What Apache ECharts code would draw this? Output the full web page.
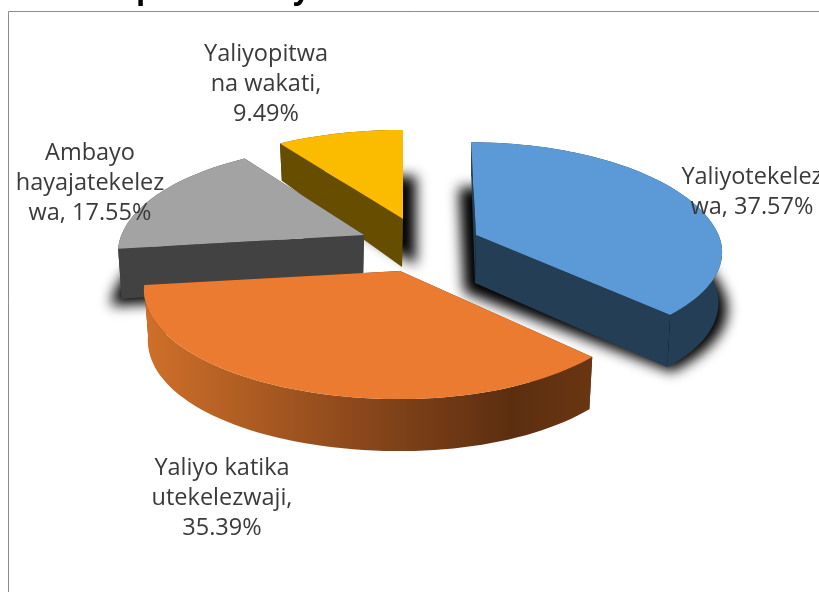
<!DOCTYPE html>
<html>
<head>
<meta charset="utf-8">
<style>html,body{margin:0;padding:0;background:#fff}#c{width:819px;height:592px}</style>
<script src="https://cdn.jsdelivr.net/npm/echarts@6/dist/echarts.min.js"></script>
</head>
<body>
<div id="c"></div>
<script>
// ---- data ----
const categories = ['Yaliyotekelezwa', 'Yaliyo katika utekelezwaji', 'Ambayo hayajatekelezwa', 'Yaliyopitwa na wakati'];
const values = [37.57, 35.39, 17.55, 9.49];
const labelNameLines = [['Yaliyotekelez', 'wa'], ['Yaliyo katika', 'utekelezwaji'], ['Ambayo', 'hayajatekelez', 'wa'], ['Yaliyopitwa', 'na wakati']];
const percentOnOwnLine = [false, true, false, true];
const topColors = ['#5B9AD6', '#EB7B30', '#A3A3A3', '#FBBC00'];

// ---- styles and layout of each slice, by index ----
const wallColors = [
  '#243E55',
  {type: 'linear', x: 0, y: 0, x2: 1, y2: 0, colorStops: [
    {offset: 0, color: '#CF7029'}, {offset: 0.45, color: '#8F4A1C'}, {offset: 0.82, color: '#5C2E10'}, {offset: 1, color: '#6A3612'}]},
  '#424242',
  '#664D00'
];
const apex = [[476, 235], [400, 271], [364, 235], [403, 219]];
// per-slice stretch of the projected plane: left, right, back, front, shear of the back half
const stretch = [
  {l: 1, r: 0.99, b: 1.03, f: 0.94, shear: 0.052},
  {l: 1.03, r: 0.98, b: 1, f: 1.01, shear: 0},
  {l: 0.99, r: 1, b: 1, f: 1, shear: 0},
  {l: 1.02, r: 1, b: 0.99, f: 1, shear: 0}
];
const shadow = [
  {dx: -12, dy: 57, sx: 1.07, sb: 1.13, sf: 1.0},
  null,
  {dx: -7, dy: 57, sx: 1.0, sb: 1.0, sf: 1.0},
  {dx: 13, dy: 46, sx: 1.0, sb: 1.0, sf: 1.0}
];
const labelPos = [[752, 177], [222, 468], [90, 153], [266, 54]];
const paintOrder = [0, 3, 2, 1];
const OFF = 3000;

// ---- perspective of the pie plane ----
const RX = 245, RY = 105.3, K = 0.17;
function project(deg, st) {
  const t = deg * Math.PI / 180, s = Math.sin(t), c = Math.cos(t), d = 1 + K * c;
  let x = RX * s / d, y = -RY * c / d;
  x *= x < 0 ? st.l : st.r;
  y *= y < 0 ? st.b : st.f;
  if (y < 0) x += st.shear * y;
  return {x: x, y: y, c: c};
}
function depthAt(c) { return 49 - 9 * c - 6 * c * c; }
function arcPts(a0, a1, fn) {
  const out = [], n = Math.max(2, Math.ceil(Math.abs(a1 - a0) / 2));
  for (let i = 0; i <= n; i++) out.push(fn(a0 + (a1 - a0) * i / n));
  return out;
}

const starts = [];
values.reduce((acc, v, i) => { starts[i] = acc; return acc + v; }, 0);
const rows = paintOrder.map(i => [i, values[i], starts[i]]);

function renderSlice(params, api) {
  const i = api.value(0), a0 = api.value(2) * 3.6, a1 = a0 + api.value(1) * 3.6;
  const [ax, ay] = apex[i], st = stretch[i];
  const top = deg => { const p = project(deg, st); return [ax + p.x, ay + p.y]; };
  const bot = deg => { const p = project(deg, st); return [ax + p.x * 0.985, ay + p.y + depthAt(p.c)]; };
  const topArc = arcPts(a0, a1, top), botArc = arcPts(a0, a1, bot);
  const apexBot = [ax - 1, ay + 48];
  const kids = [];
  const sh = shadow[i];
  if (sh) {
    // the hard polygon sits off the canvas: only its blurred shadow lands on the chart
    const pts = [[ax + sh.dx - OFF, ay + sh.dy]].concat(arcPts(a0, a1, deg => {
      const p = project(deg, st);
      return [ax + sh.dx + p.x * sh.sx - OFF, ay + sh.dy + p.y * (p.y < 0 ? sh.sb : sh.sf)];
    }));
    kids.push({type: 'polygon', shape: {points: pts},
      style: {fill: '#000', shadowBlur: 13, shadowColor: '#000', shadowOffsetX: OFF, shadowOffsetY: 0}});
  }
  const flat = typeof wallColors[i] === 'string' ? wallColors[i] : '#5C2E10';
  kids.push({type: 'polygon', shape: {points: [[ax, ay], topArc[0], botArc[0], apexBot]}, style: {fill: flat}});
  kids.push({type: 'polygon', shape: {points: [[ax, ay], topArc[topArc.length - 1], botArc[botArc.length - 1], apexBot]}, style: {fill: flat}});
  kids.push({type: 'polygon', shape: {points: topArc.concat(botArc.slice().reverse())}, style: {fill: wallColors[i]}});
  kids.push({type: 'polygon', shape: {points: [[ax, ay]].concat(topArc)}, style: {fill: topColors[i]}});
  return {type: 'group', children: kids};
}

function renderLabel(params, api) {
  const i = api.value(0);
  const lines = labelNameLines[i].slice();
  const pct = api.value(1).toFixed(2) + '%';
  if (percentOnOwnLine[i]) { lines[lines.length - 1] += ','; lines.push(pct); }
  else lines[lines.length - 1] += ', ' + pct;
  return {type: 'group', children: lines.map((t, k) => ({
    type: 'text',
    style: {text: t, x: labelPos[i][0], y: labelPos[i][1] + k * 30, align: 'center', verticalAlign: 'middle',
      font: '23.5px "Open Sans"', fill: '#3A3A3A'}
  }))};
}

const chart = echarts.init(document.getElementById('c'), null, {renderer: 'canvas'});
chart.setOption({
  animation: false,
  backgroundColor: '#fff',
  tooltip: {show: false},
  graphic: [
    {type: 'polyline', shape: {points: [[8.5, 600], [8.5, 11.5], [830, 11.5]]}, style: {stroke: '#8C8C8C', lineWidth: 1, fill: null}, silent: true},
    {type: 'text', style: {text: 'p', x: 136, y: 5, verticalAlign: 'bottom', font: 'bold 30px "Open Sans"', fill: '#000'}},
    {type: 'text', style: {text: 'y', x: 293, y: 5, verticalAlign: 'bottom', font: 'bold 30px "Open Sans"', fill: '#000'}}
  ],
  series: [
    {type: 'custom', coordinateSystem: 'none', silent: true, z: 2, data: rows, renderItem: renderSlice, clip: false},
    {type: 'custom', coordinateSystem: 'none', silent: true, z: 3, data: rows, renderItem: renderLabel, clip: false}
  ]
});
</script>
</body>
</html>
